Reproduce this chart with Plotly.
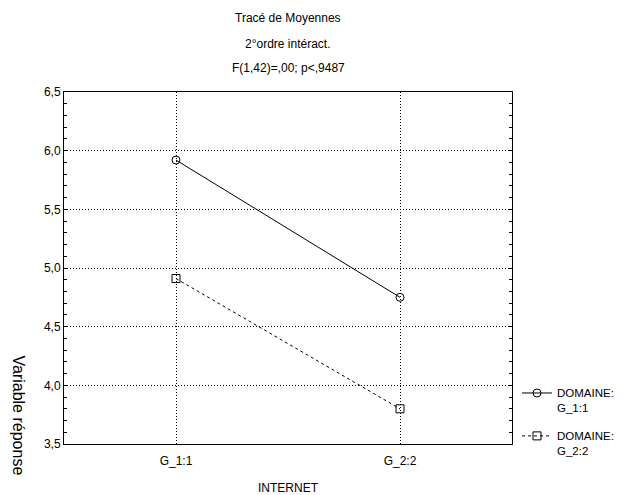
import plotly.graph_objects as go

categories = ["G_1:1", "G_2:2"]
domaine_1 = [5.92, 4.75]
domaine_2 = [4.91, 3.80]
series_names = ["DOMAINE:<br>G_1:1", "DOMAINE:<br>G_2:2"]
title_lines = ["Tracé de Moyennes", "2°ordre intéract.", "F(1,42)=,00; p<,9487"]

FONT = "Liberation Sans"
OFF = 8  # page body margin
W, H = 625 - OFF, 495 - OFF
ml, mr, mt, mb = 64 - OFF, 113, 92 - OFF, 51

fig = go.Figure()
fig.add_trace(go.Scatter(
    x=categories, y=domaine_1, name=series_names[0], mode="lines+markers",
    legendgroup="a",
    line=dict(color="black", width=1, dash="solid"),
    marker=dict(symbol="circle-open", size=8, color="black", line=dict(width=1))))
fig.add_trace(go.Scatter(
    x=categories, y=domaine_2, name=series_names[1], mode="lines+markers",
    legendgroup="b",
    line=dict(color="black", width=1, dash="3px,3px"),
    marker=dict(symbol="square-open", size=8, color="black", line=dict(width=1))))

pw = W - ml - mr
ph = H - mt - mb

fig.update_layout(
    width=W, height=H,
    margin=dict(l=ml, r=mr, t=mt, b=mb, autoexpand=False),
    paper_bgcolor="white", plot_bgcolor="white",
    separators=", ",
    font=dict(family=FONT, size=12, color="black"),
    showlegend=True,
    legend=dict(x=(517 - 64) / pw, y=(H - mb - (379 - OFF)) / ph,
                xanchor="left", yanchor="top",
                valign="top", tracegroupgap=10,
                font=dict(family=FONT, size=11.5, color="black"),
                bgcolor="rgba(0,0,0,0)"),
)

fig.update_xaxes(
    type="category", range=[-0.5, 1.5],
    showline=True, linecolor="black", linewidth=1, mirror=True,
    showgrid=True, gridcolor="black", griddash="1px,2px", gridwidth=1,
    ticks="", tickfont=dict(size=12), ticklabelstandoff=6,
    title=dict(text="INTERNET", font=dict(size=12), standoff=17),
    zeroline=False,
)
fig.update_yaxes(
    range=[3.5, 6.5], dtick=0.5, tick0=3.5, tickformat=".1f",
    showline=True, linecolor="black", linewidth=1, mirror="allticks",
    showgrid=True, gridcolor="black", griddash="1px,2px", gridwidth=1,
    ticks="inside", ticklen=4, tickcolor="black",
    minor=dict(ticks="inside", dtick=0.1, ticklen=3, tickcolor="black", showgrid=False),
    tickfont=dict(size=12), zeroline=False,
)

ys = [18, 44, 68]
for txt, yp in zip(title_lines, ys):
    fig.add_annotation(text=txt, xref="paper", yref="paper",
                       x=0.5, y=(H - mb - (yp - OFF)) / ph, xanchor="center", yanchor="middle",
                       showarrow=False, font=dict(family=FONT, size=12, color="black"))

fig.add_annotation(text="Variable réponse", textangle=90,
                   xref="paper", yref="paper",
                   x=(0 - ml) / pw, y=(H - mb - (353 - OFF)) / ph,
                   xanchor="left", yanchor="top", showarrow=False,
                   font=dict(family=FONT, size=16, color="black"))

fig.write_html("out.html")
